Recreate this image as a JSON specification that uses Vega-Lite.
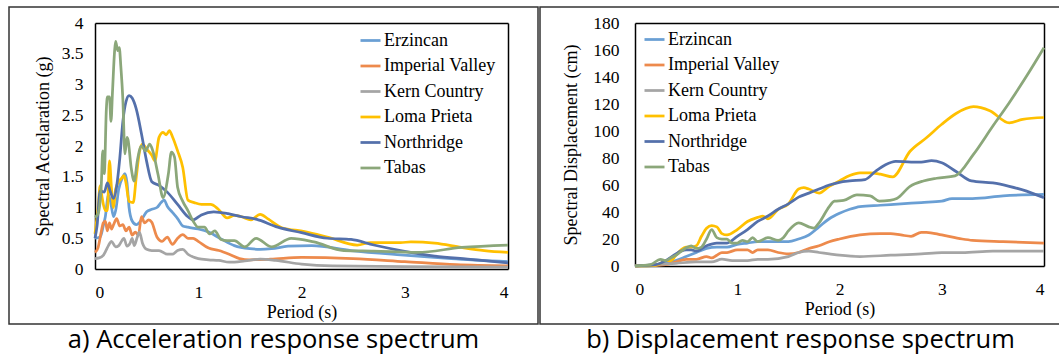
{
"$schema": "https://vega.github.io/schema/vega-lite/v6.json",
"background": "white",
"padding": {"left": 8, "top": 6, "right": 0, "bottom": 0},
"spacing": 0,
"config": {
  "view": {"stroke": "#333333", "strokeWidth": 1.5},
  "axis": {"grid": false, "ticks": false, "domainColor": "#000000", "domainWidth": 1.5, "labelFont": "Liberation Serif", "labelFontSize": 17.5, "labelColor": "#000000", "titleFont": "Liberation Serif", "titleFontSize": 18, "titleFontWeight": "normal", "titleColor": "#000000"},
  "legend": {"orient": "none", "title": null, "symbolType": "stroke", "symbolSize": 400, "symbolStrokeWidth": 2.75, "labelFont": "Liberation Serif", "labelFontSize": 18, "labelColor": "#000000", "rowPadding": 4.5, "labelOffset": 2, "padding": 0},
  "title": {"font": "Open Sans", "fontSize": 25.5, "fontWeight": "normal", "color": "#000000", "anchor": "middle", "orient": "bottom", "offset": 4},
  "line": {"strokeWidth": 2.75, "interpolate": "monotone"}
},
"resolve": {"scale": {"color": "independent"}, "legend": {"color": "independent"}},
"datasets": {
"acc": [
{"quake":"Erzincan","T":0,"Sa":0.5},{"quake":"Erzincan","T":0.05,"Sa":0.52},{"quake":"Erzincan","T":0.08,"Sa":0.7},{"quake":"Erzincan","T":0.1,"Sa":0.85},{"quake":"Erzincan","T":0.13,"Sa":1.2},{"quake":"Erzincan","T":0.15,"Sa":1.1},{"quake":"Erzincan","T":0.18,"Sa":0.85},{"quake":"Erzincan","T":0.2,"Sa":0.95},{"quake":"Erzincan","T":0.23,"Sa":1.3},{"quake":"Erzincan","T":0.27,"Sa":1.5},{"quake":"Erzincan","T":0.29,"Sa":1.55},{"quake":"Erzincan","T":0.31,"Sa":1.4},{"quake":"Erzincan","T":0.33,"Sa":1.0},{"quake":"Erzincan","T":0.36,"Sa":0.78},{"quake":"Erzincan","T":0.4,"Sa":0.72},{"quake":"Erzincan","T":0.45,"Sa":0.8},{"quake":"Erzincan","T":0.5,"Sa":0.93},{"quake":"Erzincan","T":0.55,"Sa":0.97},{"quake":"Erzincan","T":0.6,"Sa":1.0},{"quake":"Erzincan","T":0.64,"Sa":1.08},{"quake":"Erzincan","T":0.67,"Sa":1.12},{"quake":"Erzincan","T":0.7,"Sa":1.02},{"quake":"Erzincan","T":0.75,"Sa":0.92},{"quake":"Erzincan","T":0.8,"Sa":0.82},{"quake":"Erzincan","T":0.85,"Sa":0.7},{"quake":"Erzincan","T":0.9,"Sa":0.68},{"quake":"Erzincan","T":1.0,"Sa":0.65},{"quake":"Erzincan","T":1.1,"Sa":0.6},{"quake":"Erzincan","T":1.22,"Sa":0.49},{"quake":"Erzincan","T":1.35,"Sa":0.38},{"quake":"Erzincan","T":1.5,"Sa":0.33},{"quake":"Erzincan","T":1.6,"Sa":0.32},{"quake":"Erzincan","T":1.71,"Sa":0.33},{"quake":"Erzincan","T":1.87,"Sa":0.37},{"quake":"Erzincan","T":2.1,"Sa":0.38},{"quake":"Erzincan","T":2.48,"Sa":0.3},{"quake":"Erzincan","T":2.96,"Sa":0.23},{"quake":"Erzincan","T":3.45,"Sa":0.17},{"quake":"Erzincan","T":4.0,"Sa":0.12},
{"quake":"Imperial Valley","T":0,"Sa":0.27},{"quake":"Imperial Valley","T":0.03,"Sa":0.35},{"quake":"Imperial Valley","T":0.06,"Sa":0.6},{"quake":"Imperial Valley","T":0.08,"Sa":0.75},{"quake":"Imperial Valley","T":0.1,"Sa":0.78},{"quake":"Imperial Valley","T":0.12,"Sa":0.62},{"quake":"Imperial Valley","T":0.14,"Sa":0.75},{"quake":"Imperial Valley","T":0.16,"Sa":0.65},{"quake":"Imperial Valley","T":0.18,"Sa":0.72},{"quake":"Imperial Valley","T":0.21,"Sa":0.82},{"quake":"Imperial Valley","T":0.24,"Sa":0.7},{"quake":"Imperial Valley","T":0.27,"Sa":0.72},{"quake":"Imperial Valley","T":0.3,"Sa":0.62},{"quake":"Imperial Valley","T":0.33,"Sa":0.68},{"quake":"Imperial Valley","T":0.36,"Sa":0.55},{"quake":"Imperial Valley","T":0.39,"Sa":0.6},{"quake":"Imperial Valley","T":0.42,"Sa":0.55},{"quake":"Imperial Valley","T":0.45,"Sa":0.85},{"quake":"Imperial Valley","T":0.48,"Sa":0.75},{"quake":"Imperial Valley","T":0.52,"Sa":0.8},{"quake":"Imperial Valley","T":0.55,"Sa":0.76},{"quake":"Imperial Valley","T":0.6,"Sa":0.52},{"quake":"Imperial Valley","T":0.65,"Sa":0.45},{"quake":"Imperial Valley","T":0.7,"Sa":0.52},{"quake":"Imperial Valley","T":0.75,"Sa":0.4},{"quake":"Imperial Valley","T":0.8,"Sa":0.5},{"quake":"Imperial Valley","T":0.85,"Sa":0.56},{"quake":"Imperial Valley","T":0.9,"Sa":0.5},{"quake":"Imperial Valley","T":0.95,"Sa":0.5},{"quake":"Imperial Valley","T":1.0,"Sa":0.45},{"quake":"Imperial Valley","T":1.1,"Sa":0.34},{"quake":"Imperial Valley","T":1.2,"Sa":0.3},{"quake":"Imperial Valley","T":1.3,"Sa":0.24},{"quake":"Imperial Valley","T":1.4,"Sa":0.17},{"quake":"Imperial Valley","T":1.5,"Sa":0.15},{"quake":"Imperial Valley","T":1.7,"Sa":0.16},{"quake":"Imperial Valley","T":2.0,"Sa":0.19},{"quake":"Imperial Valley","T":2.5,"Sa":0.17},{"quake":"Imperial Valley","T":3.0,"Sa":0.12},{"quake":"Imperial Valley","T":3.5,"Sa":0.07},{"quake":"Imperial Valley","T":4.0,"Sa":0.05},
{"quake":"Kern Country","T":0,"Sa":0.17},{"quake":"Kern Country","T":0.04,"Sa":0.18},{"quake":"Kern Country","T":0.08,"Sa":0.22},{"quake":"Kern Country","T":0.1,"Sa":0.28},{"quake":"Kern Country","T":0.13,"Sa":0.38},{"quake":"Kern Country","T":0.16,"Sa":0.45},{"quake":"Kern Country","T":0.2,"Sa":0.36},{"quake":"Kern Country","T":0.23,"Sa":0.38},{"quake":"Kern Country","T":0.26,"Sa":0.46},{"quake":"Kern Country","T":0.28,"Sa":0.5},{"quake":"Kern Country","T":0.31,"Sa":0.37},{"quake":"Kern Country","T":0.34,"Sa":0.42},{"quake":"Kern Country","T":0.36,"Sa":0.5},{"quake":"Kern Country","T":0.38,"Sa":0.38},{"quake":"Kern Country","T":0.41,"Sa":0.52},{"quake":"Kern Country","T":0.43,"Sa":0.6},{"quake":"Kern Country","T":0.46,"Sa":0.42},{"quake":"Kern Country","T":0.5,"Sa":0.32},{"quake":"Kern Country","T":0.55,"Sa":0.3},{"quake":"Kern Country","T":0.62,"Sa":0.3},{"quake":"Kern Country","T":0.7,"Sa":0.24},{"quake":"Kern Country","T":0.75,"Sa":0.24},{"quake":"Kern Country","T":0.8,"Sa":0.3},{"quake":"Kern Country","T":0.85,"Sa":0.32},{"quake":"Kern Country","T":0.9,"Sa":0.24},{"quake":"Kern Country","T":1.0,"Sa":0.17},{"quake":"Kern Country","T":1.1,"Sa":0.15},{"quake":"Kern Country","T":1.2,"Sa":0.14},{"quake":"Kern Country","T":1.3,"Sa":0.11},{"quake":"Kern Country","T":1.45,"Sa":0.13},{"quake":"Kern Country","T":1.6,"Sa":0.16},{"quake":"Kern Country","T":1.75,"Sa":0.14},{"quake":"Kern Country","T":2.0,"Sa":0.08},{"quake":"Kern Country","T":2.3,"Sa":0.05},{"quake":"Kern Country","T":3.0,"Sa":0.04},{"quake":"Kern Country","T":4.0,"Sa":0.03},
{"quake":"Loma Prieta","T":0,"Sa":0.57},{"quake":"Loma Prieta","T":0.03,"Sa":1.0},{"quake":"Loma Prieta","T":0.05,"Sa":1.35},{"quake":"Loma Prieta","T":0.07,"Sa":1.15},{"quake":"Loma Prieta","T":0.1,"Sa":0.95},{"quake":"Loma Prieta","T":0.12,"Sa":0.95},{"quake":"Loma Prieta","T":0.14,"Sa":1.76},{"quake":"Loma Prieta","T":0.16,"Sa":1.3},{"quake":"Loma Prieta","T":0.18,"Sa":1.0},{"quake":"Loma Prieta","T":0.2,"Sa":1.3},{"quake":"Loma Prieta","T":0.23,"Sa":1.42},{"quake":"Loma Prieta","T":0.26,"Sa":1.48},{"quake":"Loma Prieta","T":0.28,"Sa":1.52},{"quake":"Loma Prieta","T":0.3,"Sa":1.4},{"quake":"Loma Prieta","T":0.33,"Sa":1.1},{"quake":"Loma Prieta","T":0.37,"Sa":1.08},{"quake":"Loma Prieta","T":0.4,"Sa":1.5},{"quake":"Loma Prieta","T":0.43,"Sa":1.9},{"quake":"Loma Prieta","T":0.46,"Sa":2.03},{"quake":"Loma Prieta","T":0.5,"Sa":1.95},{"quake":"Loma Prieta","T":0.55,"Sa":1.85},{"quake":"Loma Prieta","T":0.58,"Sa":1.76},{"quake":"Loma Prieta","T":0.62,"Sa":2.14},{"quake":"Loma Prieta","T":0.66,"Sa":2.22},{"quake":"Loma Prieta","T":0.69,"Sa":2.18},{"quake":"Loma Prieta","T":0.72,"Sa":2.25},{"quake":"Loma Prieta","T":0.75,"Sa":2.15},{"quake":"Loma Prieta","T":0.8,"Sa":1.92},{"quake":"Loma Prieta","T":0.85,"Sa":1.65},{"quake":"Loma Prieta","T":0.9,"Sa":1.12},{"quake":"Loma Prieta","T":0.96,"Sa":1.08},{"quake":"Loma Prieta","T":1.03,"Sa":1.05},{"quake":"Loma Prieta","T":1.12,"Sa":1.05},{"quake":"Loma Prieta","T":1.19,"Sa":0.98},{"quake":"Loma Prieta","T":1.28,"Sa":0.83},{"quake":"Loma Prieta","T":1.35,"Sa":0.87},{"quake":"Loma Prieta","T":1.42,"Sa":0.85},{"quake":"Loma Prieta","T":1.51,"Sa":0.8},{"quake":"Loma Prieta","T":1.6,"Sa":0.89},{"quake":"Loma Prieta","T":1.68,"Sa":0.81},{"quake":"Loma Prieta","T":1.81,"Sa":0.67},{"quake":"Loma Prieta","T":2.03,"Sa":0.61},{"quake":"Loma Prieta","T":2.25,"Sa":0.52},{"quake":"Loma Prieta","T":2.54,"Sa":0.39},{"quake":"Loma Prieta","T":2.67,"Sa":0.43},{"quake":"Loma Prieta","T":2.96,"Sa":0.43},{"quake":"Loma Prieta","T":3.06,"Sa":0.44},{"quake":"Loma Prieta","T":3.29,"Sa":0.42},{"quake":"Loma Prieta","T":3.55,"Sa":0.35},{"quake":"Loma Prieta","T":3.77,"Sa":0.3},{"quake":"Loma Prieta","T":4.0,"Sa":0.27},
{"quake":"Northridge","T":0,"Sa":0.5},{"quake":"Northridge","T":0.02,"Sa":0.7},{"quake":"Northridge","T":0.05,"Sa":1.27},{"quake":"Northridge","T":0.09,"Sa":1.25},{"quake":"Northridge","T":0.12,"Sa":1.4},{"quake":"Northridge","T":0.15,"Sa":1.25},{"quake":"Northridge","T":0.18,"Sa":1.15},{"quake":"Northridge","T":0.21,"Sa":1.35},{"quake":"Northridge","T":0.24,"Sa":1.8},{"quake":"Northridge","T":0.27,"Sa":2.4},{"quake":"Northridge","T":0.3,"Sa":2.72},{"quake":"Northridge","T":0.33,"Sa":2.82},{"quake":"Northridge","T":0.36,"Sa":2.78},{"quake":"Northridge","T":0.4,"Sa":2.6},{"quake":"Northridge","T":0.45,"Sa":2.2},{"quake":"Northridge","T":0.5,"Sa":1.75},{"quake":"Northridge","T":0.55,"Sa":1.42},{"quake":"Northridge","T":0.62,"Sa":1.36},{"quake":"Northridge","T":0.7,"Sa":1.25},{"quake":"Northridge","T":0.8,"Sa":1.05},{"quake":"Northridge","T":0.9,"Sa":0.85},{"quake":"Northridge","T":0.95,"Sa":0.8},{"quake":"Northridge","T":1.03,"Sa":0.88},{"quake":"Northridge","T":1.15,"Sa":0.93},{"quake":"Northridge","T":1.29,"Sa":0.9},{"quake":"Northridge","T":1.42,"Sa":0.85},{"quake":"Northridge","T":1.56,"Sa":0.81},{"quake":"Northridge","T":1.77,"Sa":0.68},{"quake":"Northridge","T":2.0,"Sa":0.59},{"quake":"Northridge","T":2.25,"Sa":0.5},{"quake":"Northridge","T":2.48,"Sa":0.48},{"quake":"Northridge","T":2.7,"Sa":0.39},{"quake":"Northridge","T":2.96,"Sa":0.3},{"quake":"Northridge","T":3.29,"Sa":0.21},{"quake":"Northridge","T":3.61,"Sa":0.16},{"quake":"Northridge","T":4.0,"Sa":0.1},
{"quake":"Tabas","T":0,"Sa":0.84},{"quake":"Tabas","T":0.03,"Sa":0.9},{"quake":"Tabas","T":0.06,"Sa":1.33},{"quake":"Tabas","T":0.075,"Sa":1.92},{"quake":"Tabas","T":0.09,"Sa":1.55},{"quake":"Tabas","T":0.11,"Sa":2.6},{"quake":"Tabas","T":0.12,"Sa":2.8},{"quake":"Tabas","T":0.14,"Sa":2.8},{"quake":"Tabas","T":0.155,"Sa":2.4},{"quake":"Tabas","T":0.17,"Sa":2.9},{"quake":"Tabas","T":0.19,"Sa":3.55},{"quake":"Tabas","T":0.2,"Sa":3.7},{"quake":"Tabas","T":0.22,"Sa":3.55},{"quake":"Tabas","T":0.235,"Sa":3.6},{"quake":"Tabas","T":0.25,"Sa":3.3},{"quake":"Tabas","T":0.27,"Sa":2.75},{"quake":"Tabas","T":0.29,"Sa":1.87},{"quake":"Tabas","T":0.31,"Sa":2.14},{"quake":"Tabas","T":0.32,"Sa":2.1},{"quake":"Tabas","T":0.35,"Sa":1.65},{"quake":"Tabas","T":0.38,"Sa":1.43},{"quake":"Tabas","T":0.41,"Sa":1.76},{"quake":"Tabas","T":0.45,"Sa":2.0},{"quake":"Tabas","T":0.49,"Sa":1.92},{"quake":"Tabas","T":0.53,"Sa":2.03},{"quake":"Tabas","T":0.56,"Sa":1.92},{"quake":"Tabas","T":0.61,"Sa":1.54},{"quake":"Tabas","T":0.66,"Sa":1.16},{"quake":"Tabas","T":0.71,"Sa":1.54},{"quake":"Tabas","T":0.74,"Sa":1.9},{"quake":"Tabas","T":0.77,"Sa":1.82},{"quake":"Tabas","T":0.8,"Sa":1.33},{"quake":"Tabas","T":0.85,"Sa":1.1},{"quake":"Tabas","T":0.9,"Sa":0.95},{"quake":"Tabas","T":0.95,"Sa":0.78},{"quake":"Tabas","T":1.0,"Sa":0.68},{"quake":"Tabas","T":1.06,"Sa":0.68},{"quake":"Tabas","T":1.11,"Sa":0.57},{"quake":"Tabas","T":1.16,"Sa":0.62},{"quake":"Tabas","T":1.22,"Sa":0.48},{"quake":"Tabas","T":1.28,"Sa":0.46},{"quake":"Tabas","T":1.35,"Sa":0.46},{"quake":"Tabas","T":1.45,"Sa":0.36},{"quake":"Tabas","T":1.56,"Sa":0.5},{"quake":"Tabas","T":1.71,"Sa":0.36},{"quake":"Tabas","T":1.9,"Sa":0.5},{"quake":"Tabas","T":2.12,"Sa":0.44},{"quake":"Tabas","T":2.41,"Sa":0.3},{"quake":"Tabas","T":2.7,"Sa":0.29},{"quake":"Tabas","T":3.12,"Sa":0.27},{"quake":"Tabas","T":3.55,"Sa":0.35},{"quake":"Tabas","T":4.0,"Sa":0.39}
],
"disp": [
{"quake":"Erzincan","T":0,"Sd":0},{"quake":"Erzincan","T":0.2,"Sd":0.5},{"quake":"Erzincan","T":0.3,"Sd":2},{"quake":"Erzincan","T":0.4,"Sd":4},{"quake":"Erzincan","T":0.5,"Sd":7},{"quake":"Erzincan","T":0.6,"Sd":10},{"quake":"Erzincan","T":0.7,"Sd":13},{"quake":"Erzincan","T":0.8,"Sd":14},{"quake":"Erzincan","T":0.9,"Sd":14},{"quake":"Erzincan","T":1.0,"Sd":16},{"quake":"Erzincan","T":1.1,"Sd":17},{"quake":"Erzincan","T":1.2,"Sd":18},{"quake":"Erzincan","T":1.3,"Sd":18},{"quake":"Erzincan","T":1.4,"Sd":18},{"quake":"Erzincan","T":1.5,"Sd":18},{"quake":"Erzincan","T":1.6,"Sd":20},{"quake":"Erzincan","T":1.7,"Sd":23},{"quake":"Erzincan","T":1.8,"Sd":29},{"quake":"Erzincan","T":1.9,"Sd":35},{"quake":"Erzincan","T":2.0,"Sd":39},{"quake":"Erzincan","T":2.1,"Sd":42},{"quake":"Erzincan","T":2.2,"Sd":44},{"quake":"Erzincan","T":2.4,"Sd":45},{"quake":"Erzincan","T":2.6,"Sd":46},{"quake":"Erzincan","T":2.8,"Sd":47},{"quake":"Erzincan","T":3.0,"Sd":48},{"quake":"Erzincan","T":3.1,"Sd":50},{"quake":"Erzincan","T":3.3,"Sd":50},{"quake":"Erzincan","T":3.6,"Sd":52},{"quake":"Erzincan","T":4.0,"Sd":53},
{"quake":"Imperial Valley","T":0,"Sd":0},{"quake":"Imperial Valley","T":0.3,"Sd":1},{"quake":"Imperial Valley","T":0.4,"Sd":3},{"quake":"Imperial Valley","T":0.5,"Sd":5},{"quake":"Imperial Valley","T":0.6,"Sd":5},{"quake":"Imperial Valley","T":0.7,"Sd":7},{"quake":"Imperial Valley","T":0.75,"Sd":6},{"quake":"Imperial Valley","T":0.8,"Sd":8},{"quake":"Imperial Valley","T":0.85,"Sd":10},{"quake":"Imperial Valley","T":0.9,"Sd":10},{"quake":"Imperial Valley","T":1.0,"Sd":12},{"quake":"Imperial Valley","T":1.05,"Sd":12},{"quake":"Imperial Valley","T":1.1,"Sd":12},{"quake":"Imperial Valley","T":1.15,"Sd":10},{"quake":"Imperial Valley","T":1.2,"Sd":12},{"quake":"Imperial Valley","T":1.3,"Sd":12},{"quake":"Imperial Valley","T":1.4,"Sd":10},{"quake":"Imperial Valley","T":1.5,"Sd":9},{"quake":"Imperial Valley","T":1.6,"Sd":10},{"quake":"Imperial Valley","T":1.7,"Sd":13},{"quake":"Imperial Valley","T":1.8,"Sd":15},{"quake":"Imperial Valley","T":1.9,"Sd":18},{"quake":"Imperial Valley","T":2.0,"Sd":20},{"quake":"Imperial Valley","T":2.2,"Sd":23},{"quake":"Imperial Valley","T":2.4,"Sd":24},{"quake":"Imperial Valley","T":2.5,"Sd":24},{"quake":"Imperial Valley","T":2.6,"Sd":23},{"quake":"Imperial Valley","T":2.7,"Sd":22},{"quake":"Imperial Valley","T":2.8,"Sd":25},{"quake":"Imperial Valley","T":2.85,"Sd":25},{"quake":"Imperial Valley","T":3.0,"Sd":23},{"quake":"Imperial Valley","T":3.2,"Sd":20},{"quake":"Imperial Valley","T":3.3,"Sd":19},{"quake":"Imperial Valley","T":3.6,"Sd":18},{"quake":"Imperial Valley","T":4.0,"Sd":17},
{"quake":"Kern Country","T":0,"Sd":0},{"quake":"Kern Country","T":0.4,"Sd":2},{"quake":"Kern Country","T":0.6,"Sd":3},{"quake":"Kern Country","T":0.75,"Sd":3},{"quake":"Kern Country","T":0.85,"Sd":5},{"quake":"Kern Country","T":0.95,"Sd":4},{"quake":"Kern Country","T":1.1,"Sd":4},{"quake":"Kern Country","T":1.2,"Sd":5},{"quake":"Kern Country","T":1.3,"Sd":5},{"quake":"Kern Country","T":1.5,"Sd":7},{"quake":"Kern Country","T":1.6,"Sd":10},{"quake":"Kern Country","T":1.7,"Sd":11},{"quake":"Kern Country","T":1.8,"Sd":10},{"quake":"Kern Country","T":1.9,"Sd":9},{"quake":"Kern Country","T":2.0,"Sd":8},{"quake":"Kern Country","T":2.2,"Sd":7},{"quake":"Kern Country","T":2.5,"Sd":8},{"quake":"Kern Country","T":2.8,"Sd":9},{"quake":"Kern Country","T":3.0,"Sd":10},{"quake":"Kern Country","T":3.2,"Sd":10},{"quake":"Kern Country","T":3.5,"Sd":11},{"quake":"Kern Country","T":4.0,"Sd":11},
{"quake":"Loma Prieta","T":0,"Sd":0},{"quake":"Loma Prieta","T":0.2,"Sd":0.5},{"quake":"Loma Prieta","T":0.25,"Sd":2},{"quake":"Loma Prieta","T":0.3,"Sd":4},{"quake":"Loma Prieta","T":0.35,"Sd":4},{"quake":"Loma Prieta","T":0.4,"Sd":8},{"quake":"Loma Prieta","T":0.45,"Sd":12},{"quake":"Loma Prieta","T":0.5,"Sd":14},{"quake":"Loma Prieta","T":0.55,"Sd":14},{"quake":"Loma Prieta","T":0.6,"Sd":15},{"quake":"Loma Prieta","T":0.65,"Sd":22},{"quake":"Loma Prieta","T":0.7,"Sd":28},{"quake":"Loma Prieta","T":0.75,"Sd":30},{"quake":"Loma Prieta","T":0.8,"Sd":29},{"quake":"Loma Prieta","T":0.85,"Sd":24},{"quake":"Loma Prieta","T":0.9,"Sd":23},{"quake":"Loma Prieta","T":1.0,"Sd":27},{"quake":"Loma Prieta","T":1.1,"Sd":33},{"quake":"Loma Prieta","T":1.2,"Sd":36},{"quake":"Loma Prieta","T":1.25,"Sd":37},{"quake":"Loma Prieta","T":1.3,"Sd":35},{"quake":"Loma Prieta","T":1.4,"Sd":42},{"quake":"Loma Prieta","T":1.5,"Sd":46},{"quake":"Loma Prieta","T":1.6,"Sd":57},{"quake":"Loma Prieta","T":1.65,"Sd":58},{"quake":"Loma Prieta","T":1.7,"Sd":57},{"quake":"Loma Prieta","T":1.8,"Sd":54},{"quake":"Loma Prieta","T":1.9,"Sd":59},{"quake":"Loma Prieta","T":2.0,"Sd":63},{"quake":"Loma Prieta","T":2.1,"Sd":67},{"quake":"Loma Prieta","T":2.2,"Sd":69},{"quake":"Loma Prieta","T":2.3,"Sd":69},{"quake":"Loma Prieta","T":2.4,"Sd":68},{"quake":"Loma Prieta","T":2.52,"Sd":66},{"quake":"Loma Prieta","T":2.69,"Sd":85},{"quake":"Loma Prieta","T":2.85,"Sd":95},{"quake":"Loma Prieta","T":3.0,"Sd":105},{"quake":"Loma Prieta","T":3.14,"Sd":113},{"quake":"Loma Prieta","T":3.31,"Sd":118},{"quake":"Loma Prieta","T":3.47,"Sd":115},{"quake":"Loma Prieta","T":3.66,"Sd":106},{"quake":"Loma Prieta","T":3.79,"Sd":108.6},{"quake":"Loma Prieta","T":4.0,"Sd":110},
{"quake":"Northridge","T":0,"Sd":0},{"quake":"Northridge","T":0.2,"Sd":1},{"quake":"Northridge","T":0.3,"Sd":4},{"quake":"Northridge","T":0.4,"Sd":9},{"quake":"Northridge","T":0.45,"Sd":11},{"quake":"Northridge","T":0.5,"Sd":12},{"quake":"Northridge","T":0.55,"Sd":12},{"quake":"Northridge","T":0.6,"Sd":11},{"quake":"Northridge","T":0.7,"Sd":15},{"quake":"Northridge","T":0.8,"Sd":17},{"quake":"Northridge","T":0.9,"Sd":17},{"quake":"Northridge","T":1.0,"Sd":22},{"quake":"Northridge","T":1.1,"Sd":27},{"quake":"Northridge","T":1.2,"Sd":33},{"quake":"Northridge","T":1.3,"Sd":37},{"quake":"Northridge","T":1.4,"Sd":42},{"quake":"Northridge","T":1.5,"Sd":46},{"quake":"Northridge","T":1.6,"Sd":51},{"quake":"Northridge","T":1.7,"Sd":54},{"quake":"Northridge","T":1.8,"Sd":57},{"quake":"Northridge","T":1.9,"Sd":60},{"quake":"Northridge","T":2.0,"Sd":62},{"quake":"Northridge","T":2.1,"Sd":63},{"quake":"Northridge","T":2.25,"Sd":64},{"quake":"Northridge","T":2.35,"Sd":70},{"quake":"Northridge","T":2.45,"Sd":75},{"quake":"Northridge","T":2.55,"Sd":77.5},{"quake":"Northridge","T":2.7,"Sd":77},{"quake":"Northridge","T":2.8,"Sd":77},{"quake":"Northridge","T":2.9,"Sd":78},{"quake":"Northridge","T":3.0,"Sd":76.5},{"quake":"Northridge","T":3.14,"Sd":70},{"quake":"Northridge","T":3.29,"Sd":63},{"quake":"Northridge","T":3.5,"Sd":61.5},{"quake":"Northridge","T":3.66,"Sd":59},{"quake":"Northridge","T":3.83,"Sd":55.5},{"quake":"Northridge","T":4.0,"Sd":50.5},
{"quake":"Tabas","T":0,"Sd":0},{"quake":"Tabas","T":0.15,"Sd":1},{"quake":"Tabas","T":0.25,"Sd":5},{"quake":"Tabas","T":0.3,"Sd":4},{"quake":"Tabas","T":0.35,"Sd":6},{"quake":"Tabas","T":0.4,"Sd":8},{"quake":"Tabas","T":0.5,"Sd":13.5},{"quake":"Tabas","T":0.55,"Sd":15},{"quake":"Tabas","T":0.6,"Sd":13},{"quake":"Tabas","T":0.65,"Sd":14},{"quake":"Tabas","T":0.7,"Sd":20},{"quake":"Tabas","T":0.75,"Sd":27},{"quake":"Tabas","T":0.8,"Sd":21},{"quake":"Tabas","T":0.85,"Sd":20},{"quake":"Tabas","T":0.9,"Sd":20},{"quake":"Tabas","T":0.95,"Sd":17},{"quake":"Tabas","T":1.0,"Sd":17},{"quake":"Tabas","T":1.05,"Sd":19},{"quake":"Tabas","T":1.1,"Sd":18},{"quake":"Tabas","T":1.15,"Sd":21},{"quake":"Tabas","T":1.2,"Sd":18},{"quake":"Tabas","T":1.3,"Sd":21},{"quake":"Tabas","T":1.4,"Sd":19},{"quake":"Tabas","T":1.45,"Sd":21},{"quake":"Tabas","T":1.5,"Sd":26},{"quake":"Tabas","T":1.6,"Sd":32},{"quake":"Tabas","T":1.7,"Sd":29},{"quake":"Tabas","T":1.75,"Sd":28},{"quake":"Tabas","T":1.8,"Sd":32},{"quake":"Tabas","T":1.9,"Sd":44},{"quake":"Tabas","T":1.95,"Sd":48},{"quake":"Tabas","T":2.04,"Sd":48.6},{"quake":"Tabas","T":2.17,"Sd":52.6},{"quake":"Tabas","T":2.3,"Sd":51.9},{"quake":"Tabas","T":2.39,"Sd":48},{"quake":"Tabas","T":2.49,"Sd":48.6},{"quake":"Tabas","T":2.56,"Sd":50},{"quake":"Tabas","T":2.69,"Sd":59},{"quake":"Tabas","T":2.82,"Sd":63},{"quake":"Tabas","T":2.95,"Sd":65},{"quake":"Tabas","T":3.13,"Sd":66.7},{"quake":"Tabas","T":3.31,"Sd":82.7},{"quake":"Tabas","T":3.5,"Sd":103.7},{"quake":"Tabas","T":3.66,"Sd":121},{"quake":"Tabas","T":3.83,"Sd":140.7},{"quake":"Tabas","T":4.0,"Sd":161.7}
]
},
"hconcat": [
{
  "width": 529, "height": 317,
  "title": {"text": "a) Acceleration response spectrum"},
  "data": {"name": "acc"},
  "resolve": {"axis": {"x": "independent", "y": "independent"}},
  "layer": [
    {"mark": {"type": "line"},
     "encoding": {
       "x": {"field": "T", "type": "quantitative", "scale": {"domain": [0, 4], "range": [86, 499], "nice": false, "zero": false},
             "axis": {"orient": "bottom", "offset": -55, "values": [0, 1, 2, 3, 4], "format": "d", "title": "Period (s)", "labelPadding": 14, "titlePadding": 3}},
       "y": {"field": "Sa", "type": "quantitative", "scale": {"domain": [0, 4], "range": [262, 16], "nice": false},
             "axis": {"orient": "left", "offset": -86, "values": [0, 0.5, 1, 1.5, 2, 2.5, 3, 3.5, 4], "format": ".1~f", "title": "Spectral Accelaration (g)", "labelPadding": 12, "titlePadding": 9}},
       "color": {"field": "quake", "type": "nominal",
                 "scale": {"domain": ["Erzincan", "Imperial Valley", "Kern Country", "Loma Prieta", "Northridge", "Tabas"], "range": ["#6a9fd4", "#ed8a4c", "#a5a5a5", "#ffc000", "#5470ab", "#8ba77a"]},
                 "legend": {"legendX": 350, "legendY": 22}}
     }},
    {"mark": {"type": "line", "strokeOpacity": 0},
     "encoding": {
       "x": {"field": "T", "type": "quantitative", "axis": {"orient": "top", "offset": -16, "labels": false, "title": null}},
       "y": {"field": "Sa", "type": "quantitative", "axis": {"orient": "right", "offset": -30, "labels": false, "title": null}},
       "detail": {"field": "quake", "type": "nominal"}
     }}
  ]
},
{
  "width": 521, "height": 317,
  "title": {"text": "b) Displacement response spectrum"},
  "data": {"name": "disp"},
  "resolve": {"axis": {"x": "independent", "y": "independent"}},
  "layer": [
    {"mark": {"type": "line"},
     "encoding": {
       "x": {"field": "T", "type": "quantitative", "scale": {"domain": [0, 4], "range": [95, 504], "nice": false, "zero": false},
             "axis": {"orient": "bottom", "offset": -58, "values": [0, 1, 2, 3, 4], "format": "d", "title": "Period (s)", "labelPadding": 14, "titlePadding": 3}},
       "y": {"field": "Sd", "type": "quantitative", "scale": {"domain": [0, 180], "range": [259, 16], "nice": false},
             "axis": {"orient": "left", "offset": -95, "values": [0, 20, 40, 60, 80, 100, 120, 140, 160, 180], "format": "d", "title": "Spectral Displacement (cm)", "labelPadding": 16, "titlePadding": 12}},
       "color": {"field": "quake", "type": "nominal",
                 "scale": {"domain": ["Erzincan", "Imperial Valley", "Kern Country", "Loma Prieta", "Northridge", "Tabas"], "range": ["#6a9fd4", "#ed8a4c", "#a5a5a5", "#ffc000", "#5470ab", "#8ba77a"]},
                 "legend": {"legendX": 103, "legendY": 21}}
     }},
    {"mark": {"type": "line", "strokeOpacity": 0},
     "encoding": {
       "x": {"field": "T", "type": "quantitative", "axis": {"orient": "top", "offset": -16, "labels": false, "title": null}},
       "y": {"field": "Sd", "type": "quantitative", "axis": {"orient": "right", "offset": -17, "labels": false, "title": null}},
       "detail": {"field": "quake", "type": "nominal"}
     }}
  ]
}
]
}
